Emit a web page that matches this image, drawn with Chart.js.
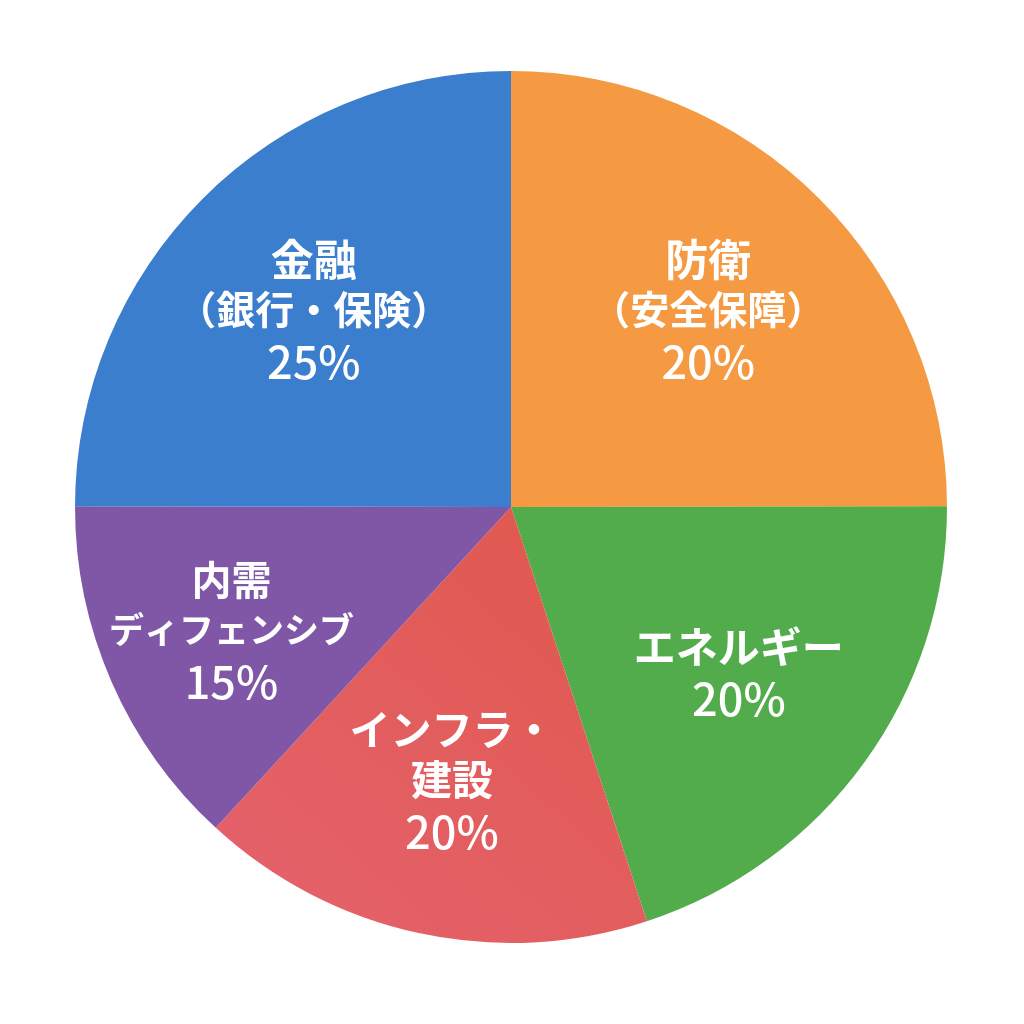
<!DOCTYPE html>
<html lang="ja">
<head>
<meta charset="utf-8">
<script src="https://cdn.jsdelivr.net/npm/chart.js@4"></script>
<style>
  html, body { margin: 0; padding: 0; background: #fff; }
  #wrap { width: 1024px; height: 1024px; }
</style>
</head>
<body>
<div id="wrap"><canvas id="myChart" width="1024" height="1024"></canvas></div>
<script>
// slice order: clockwise from 12 o'clock
const sectors = ["防衛", "エネルギー", "インフラ・建設", "内需ディフェンシブ", "金融"];
// slice sizes as drawn in the picture (arc angle converted to %)
const sliceValues = [25, 20, 16.9, 13.2, 25];
// percentage text printed on each slice
const percentLabels = ["20%", "20%", "20%", "15%", "25%"];
// text lines shown above the percentage
const labelLines = [
  ["防衛", "（安全保障）"],
  ["エネルギー"],
  ["インフラ・", "建設"],
  ["内需", "ディフェンシブ"],
  ["金融", "（銀行・保険）"]
];
const colors = ["#F59A42", "#52AC4B", "#E15D5A", "#7F57A6", "#3A7ECD"];
// font size for each text line (px)
const lineSizes = [[43, 39], [42], [41, 41], [40, 35], [43, 39]];
const labelDist = [0.64, 0.645, 0.64, 0.7, 0.64];

// draws the white text in each slice
const sliceText = {
  id: "sliceText",
  afterDatasetsDraw(chart) {
    const ctx = chart.ctx;
    const arcs = chart.getDatasetMeta(0).data;
    ctx.save();
    ctx.fillStyle = "#fff";
    ctx.textAlign = "center";
    ctx.textBaseline = "middle";
    arcs.forEach((arc, i) => {
      const mid = (arc.startAngle + arc.endAngle) / 2;
      const r = arc.outerRadius * labelDist[i];
      const x = arc.x + Math.cos(mid) * r;
      const y = arc.y + Math.sin(mid) * r;
      const lines = labelLines[i];
      const total = lines.length + 1;
      let ly = y - (total - 1) * 50 / 2;
      lines.forEach((t, j) => {
        ctx.font = "bold " + lineSizes[i][j] + "px 'Noto Sans CJK JP'";
        ctx.fillText(t, x, ly);
        ly += 50;
      });
      ctx.font = "500 45px 'Noto Sans CJK JP'";
      ctx.fillText(percentLabels[i], x, ly + 2);
    });
    ctx.restore();
  }
};

const ctx = document.getElementById("myChart").getContext("2d");
// red slice has a faint gradient in the picture
const redFill = ctx.createLinearGradient(620, 560, 300, 920);
redFill.addColorStop(0, "#E0594F");
redFill.addColorStop(1, "#E4616A");
colors[2] = redFill;

const myChart = new Chart(ctx, {
  type: "pie",
  data: {
    labels: sectors,
    datasets: [{
      data: sliceValues,
      backgroundColor: colors,
      borderWidth: 0
    }]
  },
  options: {
    responsive: false,
    animation: false,
    layout: { padding: { left: 75, top: 71, right: 77, bottom: 81 } },
    plugins: {
      legend: { display: false },
      tooltip: { enabled: false }
    }
  },
  plugins: [sliceText]
});
</script>
</body>
</html>
